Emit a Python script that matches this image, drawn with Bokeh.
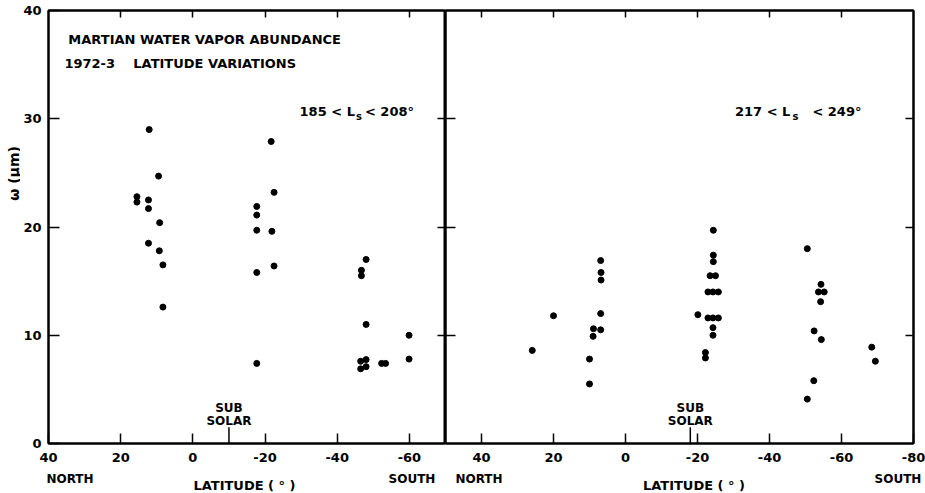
import math
from bokeh.plotting import figure
from bokeh.layouts import row, column
from bokeh.models import Range1d, LinearAxis, FixedTicker, Label, ColumnDataSource
from bokeh.embed import file_html
from bokeh.resources import INLINE

# ---------------- data ----------------
# Panel A: 185 < Ls < 208
lat_a = [12.1, 9.5, 15.5, 15.5, 12.3, 12.3, 9.2, 12.3, 9.3, 8.3, 8.3,
         -21.7, -22.5, -17.7, -17.7, -17.7, -21.9, -22.5, -17.7, -17.7,
         -48.0, -46.7, -46.7, -48.0, -59.9, -59.9, -46.5, -48.0, -46.5, -48.0, -52.3, -53.4]
w_a = [29.0, 24.7, 22.8, 22.3, 22.5, 21.7, 20.4, 18.5, 17.8, 16.5, 12.6,
       27.9, 23.2, 21.9, 21.1, 19.7, 19.6, 16.4, 15.8, 7.4,
       17.0, 16.0, 15.5, 11.0, 10.0, 7.8, 7.6, 7.75, 6.9, 7.1, 7.4, 7.4]

# Panel B: 217 < Ls < 249
lat_b = [6.9, 6.8, 6.8, 20.0, 6.9, 8.9, 6.9, 9.0, 25.9, 10.0, 10.0,
         -24.4, -24.4, -24.4, -23.5, -25.0, -22.9, -24.3, -25.8, -20.1, -22.9, -24.3, -25.8, -24.3, -24.3, -22.2, -22.2,
         -50.5, -54.3, -53.6, -55.2, -54.2, -52.4, -54.4, -68.4, -69.4, -52.3, -50.5]
w_b = [16.9, 15.8, 15.1, 11.8, 12.0, 10.6, 10.5, 9.9, 8.6, 7.8, 5.5,
       19.7, 17.4, 16.8, 15.5, 15.5, 14.0, 14.0, 14.0, 11.9, 11.6, 11.6, 11.6, 10.7, 10.0, 8.4, 7.9,
       18.0, 14.7, 14.0, 14.0, 13.1, 10.4, 9.6, 8.9, 7.6, 5.8, 4.1]

subsolar_a = -10
subsolar_b = -18
x_ticks_a = [40, 20, 0, -20, -40, -60]
x_ticks_b = [40, 20, 0, -20, -40, -60, -80]
y_ticks = [0, 10, 20, 30, 40]
y_inner_ticks = [10, 20, 30]

FONT = "DejaVu Sans"


def style_axis(ax, ticks, tin, tout=0, labels=False, standoff=0):
    ax.ticker = FixedTicker(ticks=ticks)
    ax.minor_tick_line_color = None
    ax.major_tick_in = tin
    ax.major_tick_out = tout
    ax.major_tick_line_width = 1.5
    ax.major_tick_line_color = "black"
    ax.axis_line_width = 2
    ax.axis_line_color = "black"
    if labels:
        ax.major_label_overrides = {t: str(t) for t in ticks}
        ax.major_label_text_font = FONT
        ax.major_label_text_font_size = "13px"
        ax.major_label_text_font_style = "bold"
        ax.major_label_text_color = "black"
        ax.major_label_standoff = standoff
    else:
        ax.major_label_text_font_size = "0px"
        ax.major_label_text_color = None
        ax.major_label_text_alpha = 0
        ax.major_label_standoff = 0


def lab(p, x, y, text, size="13px", align="left", angle=0.0, x_offset=0, y_offset=0, units="data"):
    p.add_layout(Label(x=x, y=y, text=text, x_units=units, y_units=units,
                       text_font=FONT, text_font_size=size,
                       text_font_style="bold", text_color="black", text_align=align,
                       text_baseline="middle", angle=angle, x_offset=x_offset, y_offset=y_offset))


def make_fig(width, xr, mb_left, mb_right, xticks, left_labels):
    p = figure(width=width, height=470, x_range=Range1d(*xr), y_range=Range1d(0, 40),
               output_backend="svg", toolbar_location=None,
               min_border_left=mb_left, min_border_right=mb_right,
               min_border_top=10, min_border_bottom=27)
    p.xgrid.visible = False
    p.ygrid.visible = False
    p.outline_line_color = "black"
    p.outline_line_width = 2
    p.background_fill_color = "white"
    p.border_fill_color = "white"
    style_axis(p.xaxis[0], xticks, tin=10, labels=True, standoff=9)
    if left_labels:
        style_axis(p.yaxis[0], y_ticks, tin=11, labels=True, standoff=7)
    else:
        style_axis(p.yaxis[0], y_inner_ticks, tin=10)
    top = LinearAxis()
    style_axis(top, [t for t in xticks if t != 40] if left_labels else [t for t in xticks if t != -80], tin=7)
    p.add_layout(top, "above")
    right = LinearAxis()
    style_axis(right, y_inner_ticks, tin=8)
    p.add_layout(right, "right")
    return p


def text_strip(width, height):
    # a bare figure whose frame is the whole strip, used only to hold outside texts
    s = figure(width=width, height=height, x_range=Range1d(0, width), y_range=Range1d(0, height),
               output_backend="svg", toolbar_location=None,
               x_axis_location=None, y_axis_location=None, min_border=0)
    s.xgrid.visible = False
    s.ygrid.visible = False
    s.outline_line_color = None
    s.background_fill_color = "white"
    s.border_fill_color = "white"
    return s


# ---------------- left panel ----------------
p1 = make_fig(425, (40, -70), 28, 0, x_ticks_a, True)
p1.scatter(x="lat", y="w", source=ColumnDataSource(dict(lat=lat_a, w=w_a)),
           size=6, color="black")
p1.segment(x0=[subsolar_a], y0=[0], x1=[subsolar_a], y1=[1.5], line_color="black", line_width=1.5)
lab(p1, subsolar_a, 3.3, "SUB", size="12px", align="center")
lab(p1, subsolar_a, 2.1, "SOLAR", size="12px", align="center")
lab(p1, 34.5, 37.3, "MARTIAN WATER VAPOR ABUNDANCE")
lab(p1, 35.6, 35.1, "1972-3")
lab(p1, 16.5, 35.1, "LATITUDE VARIATIONS")
lab(p1, -44.9, 30.7, "185 < L", align="right")
lab(p1, -44.9, 30.7, "s", size="10px", x_offset=1, y_offset=-5)
lab(p1, -44.9, 30.7, "< 208°", x_offset=10)

# ---------------- right panel ----------------
p2 = make_fig(480, (50, -80), 0, 12, x_ticks_b, False)
p2.scatter(x="lat", y="w", source=ColumnDataSource(dict(lat=lat_b, w=w_b)),
           size=6, color="black")
p2.segment(x0=[subsolar_b], y0=[0], x1=[subsolar_b], y1=[1.5], line_color="black", line_width=1.5)
lab(p2, subsolar_b, 3.3, "SUB", size="12px", align="center")
lab(p2, subsolar_b, 2.1, "SOLAR", size="12px", align="center")
lab(p2, -45.8, 30.7, "217 < L", align="right")
lab(p2, -45.8, 30.7, "s", size="10px", x_offset=2, y_offset=-5)
lab(p2, -45.8, 30.7, "< 249°", x_offset=22)

# ---------------- outside texts ----------------
left_strip = text_strip(20, 493)
lab(left_strip, 13, 320, "ω (μm)", size="14px", align="center", angle=math.pi / 2)

bottom_strip = text_strip(905, 23)
lab(bottom_strip, 49.5, 15, "NORTH", size="12px", align="center")
lab(bottom_strip, 224, 8, "LATITUDE ( ° )", align="center")
lab(bottom_strip, 391.5, 15, "SOUTH", size="12px", align="center")
lab(bottom_strip, 458.5, 15, "NORTH", size="12px", align="center")
lab(bottom_strip, 673.5, 8, "LATITUDE ( ° )", align="center")
lab(bottom_strip, 877.5, 15, "SOUTH", size="12px", align="center")

layout = row(left_strip, column(row(p1, p2, spacing=0), bottom_strip, spacing=0), spacing=0)
open("out.html", "w").write(file_html(layout, INLINE))
